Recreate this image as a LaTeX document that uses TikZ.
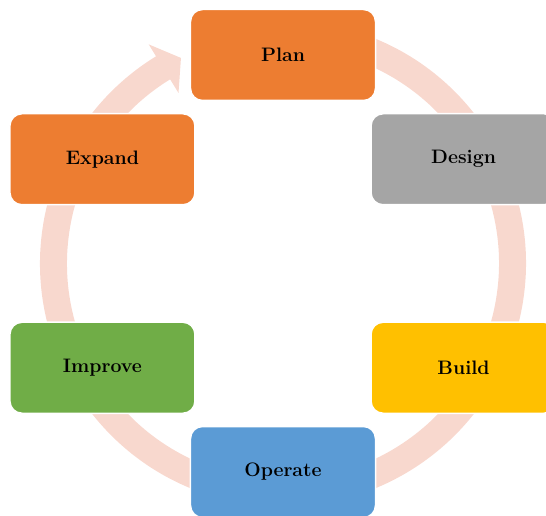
\documentclass[tikz,border=0pt]{standalone}
\usepackage{fontspec}
\usepackage{tikz}
\usepackage{xcolor}

\definecolor{ringpink}{RGB}{248,216,206}
\definecolor{planorange}{RGB}{237,125,49}
\definecolor{designgrey}{RGB}{165,165,165}
\definecolor{buildyellow}{RGB}{255,192,0}
\definecolor{operateblue}{RGB}{91,155,213}
\definecolor{improvegreen}{RGB}{112,173,71}

\begin{document}
\begin{tikzpicture}[x=1pt,y=1pt,
    stage/.style={draw=white,line width=1.5pt,rounded corners=12pt,
        minimum width=185pt,minimum height=91pt,
        font=\fontsize{19.5pt}{23pt}\selectfont\bfseries}]
        \useasboundingbox (-283,-252.5) rectangle (263,263.5);

        % ring with arrow
        \draw[ringpink,line width=27pt] (80:229.5) arc[start angle=80,end angle=-239,radius=229.5];
        \fill[ringpink] (121.5:200) -- (116.4:229.5) -- (121.5:257) -- cycle;

        % stages
        \node[stage,fill=planorange] (plan) at (90:208.5) {Plan};
        \node[stage,fill=designgrey] (design) at (30:208.5) {Design};
        \node[stage,fill=buildyellow] (build) at (-30:208.5) {Build};
        \node[stage,fill=operateblue] (operate) at (-90:208.5) {Operate};
        \node[stage,fill=improvegreen] (improve) at (-150:208.5) {Improve};
        \node[stage,fill=planorange] (expand) at (150:208.5) {Expand};
    \end{tikzpicture}
\end{document}
